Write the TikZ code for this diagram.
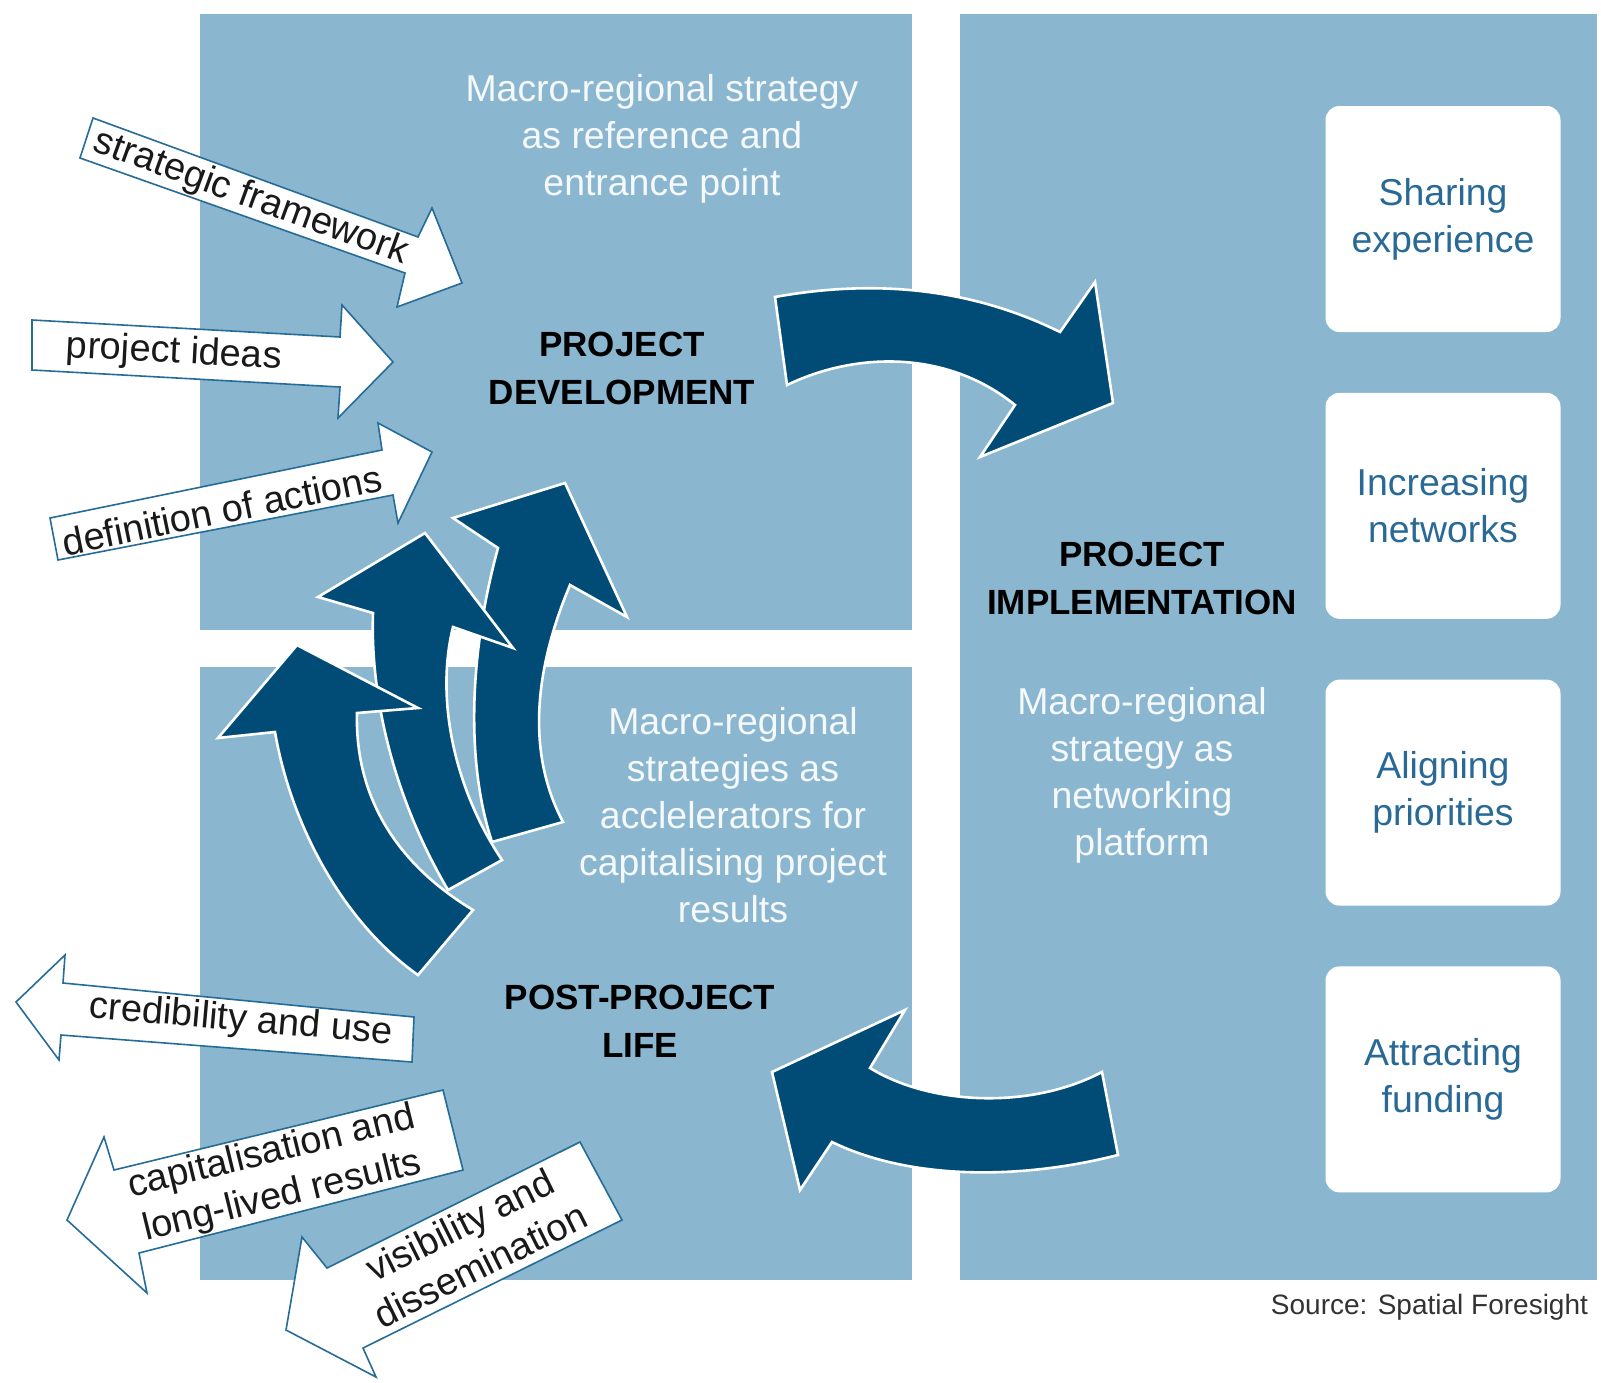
\documentclass[tikz,border=0pt]{standalone}
\usepackage{fontspec}
\setmainfont{Liberation Sans}
\usetikzlibrary{positioning}
\definecolor{panelblue}{RGB}{138,183,207}
\definecolor{arrowblue}{RGB}{1,76,118}
\definecolor{linkblue}{RGB}{38,108,152}
\definecolor{boxtext}{RGB}{40,105,150}

\begin{document}
\begin{tikzpicture}[x=0.5pt,y=-0.5pt]

       \tikzset{panel/.style = {fill=panelblue}, }
       \tikzset{bigarrow/.style = {fill=arrowblue, draw=white, line width=1.3pt, line join=miter}, }
       \tikzset{flowarrow/.style = {fill=white, draw=linkblue, line width=0.8pt, line join=miter}, }
       \tikzset{flowtext/.style = {text=black!90, font=\fontsize{19}{22.5}\selectfont, align=center, inner sep=0pt}, }
       \tikzset{stage/.style = {text=black, font=\bfseries\fontsize{17.5}{24}\selectfont, align=center}, }
       \tikzset{note/.style = {text=white!92!panelblue, font=\fontsize{18.7}{23.5}\selectfont, align=center}, }
       \tikzset{effect/.style = {rectangle, rounded corners=7pt, fill=white, minimum width=117.5pt, minimum height=113pt, text=boxtext, font=\fontsize{18.7}{23.5}\selectfont, align=center}, }

       \useasboundingbox (0,0) rectangle (1601,1382);

       \fill[panel] (200,14) rectangle (912,630);
       \fill[panel] (200,667) rectangle (912,1280);
       \fill[panel] (960,14) rectangle (1597,1280);

       \draw[flowarrow] (93,118) -- (418,237) -- (432,208) -- (462,283) -- (397,307) -- (405,273) -- (80,158) -- cycle;
       \node[flowtext, rotate=-20] (frame) at (251,198) {strategic framework};
       \draw[flowarrow] (32,320) -- (340,337) -- (342,305) -- (393,362) -- (338,418) -- (340,387) -- (32,370) -- cycle;
       \node[flowtext, rotate=-3] (ideas) at (174,353) {project ideas};
       \draw[flowarrow] (50,518) -- (382,450) -- (378,423) -- (432,452) -- (398,523) -- (393,495) -- (58,560) -- cycle;
       \node[flowtext, rotate=11.6] (actions) at (222,510) {definition of actions};

       \draw[flowarrow] (16,1002) -- (65,955) -- (63,983) -- (414,1017) -- (412,1062) -- (61,1035) -- (59,1060) -- cycle;
       \node[flowtext, rotate=-5] (credit) at (241,1021) {credibility and use};
       \draw[flowarrow] (67,1220) -- (104,1137) -- (114,1170) -- (443,1090) -- (463,1170) -- (139,1253) -- (147,1293) -- cycle;
       \node[flowtext, rotate=13.7] (capital) at (277,1175) {capitalisation and\\long-lived results};
       \draw[flowarrow] (286,1330) -- (302,1237) -- (327,1268) -- (580,1142) -- (622,1220) -- (363,1348) -- (376,1377) -- cycle;
       \node[flowtext, rotate=26.5] (visible) at (470,1245) {visibility and\\dissemination};

       \draw[bigarrow] (565,483) -- (627,617) -- (570,585) .. controls (530,680) and (530,760) .. (563,822) -- (492,842) .. controls (465,760) and (470,650) .. (498,548) -- (453,518) -- cycle;
       \draw[bigarrow] (425,533) -- (513,648) -- (453,627) .. controls (435,700) and (455,790) .. (502,860) -- (448,890) .. controls (395,800) and (370,700) .. (373,613) -- (318,597) -- cycle;
       \draw[bigarrow] (297,645) -- (418,708) -- (357,713) .. controls (355,790) and (390,860) .. (473,910) -- (418,975) .. controls (340,920) and (290,820) .. (275,732) -- (218,738) -- cycle;

       \draw[bigarrow] (775,297) .. controls (880,278) and (975,290) .. (1060,332) -- (1095,282) -- (1113,403) -- (980,457) -- (1015,405) .. controls (950,352) and (860,350) .. (787,385) -- cycle;
       \draw[bigarrow] (1102,1072) -- (1118,1155) .. controls (1020,1180) and (910,1180) .. (832,1142) -- (800,1190) -- (772,1072) -- (905,1010) -- (870,1068) .. controls (930,1105) and (1030,1110) .. (1102,1072) -- cycle;

       \node[note] (pdnote) at (662,139) {Macro-regional strategy\\as reference and\\entrance point};
       \node[stage] (pd) at (622,368) {PROJECT\\DEVELOPMENT};
       \node[stage] (pi) at (1142,578) {PROJECT\\IMPLEMENTATION};
       \node[note] (pinote) at (1142,775) {Macro-regional\\strategy as\\networking\\platform};
       \node[note] (pplnote) at (733,815) {Macro-regional\\strategies as\\acclelerators for\\capitalising project\\results};
       \node[stage] (ppl) at (640,1021) {POST-PROJECT\\LIFE};

       \node[effect] (share) at (1443,219) {Sharing\\experience};
       \node[effect, below=30pt of share] (network) {Increasing\\networks};
       \node[effect, below=30pt of network] (align) {Aligning\\priorities};
       \node[effect, below=30pt of align] (fund) {Attracting\\funding};

       \node[anchor=east, text=black!80, font=\fontsize{14}{16}\selectfont] (source) at (1595,1307) {Source: Spatial Foresight};

\end{tikzpicture}
\end{document}
